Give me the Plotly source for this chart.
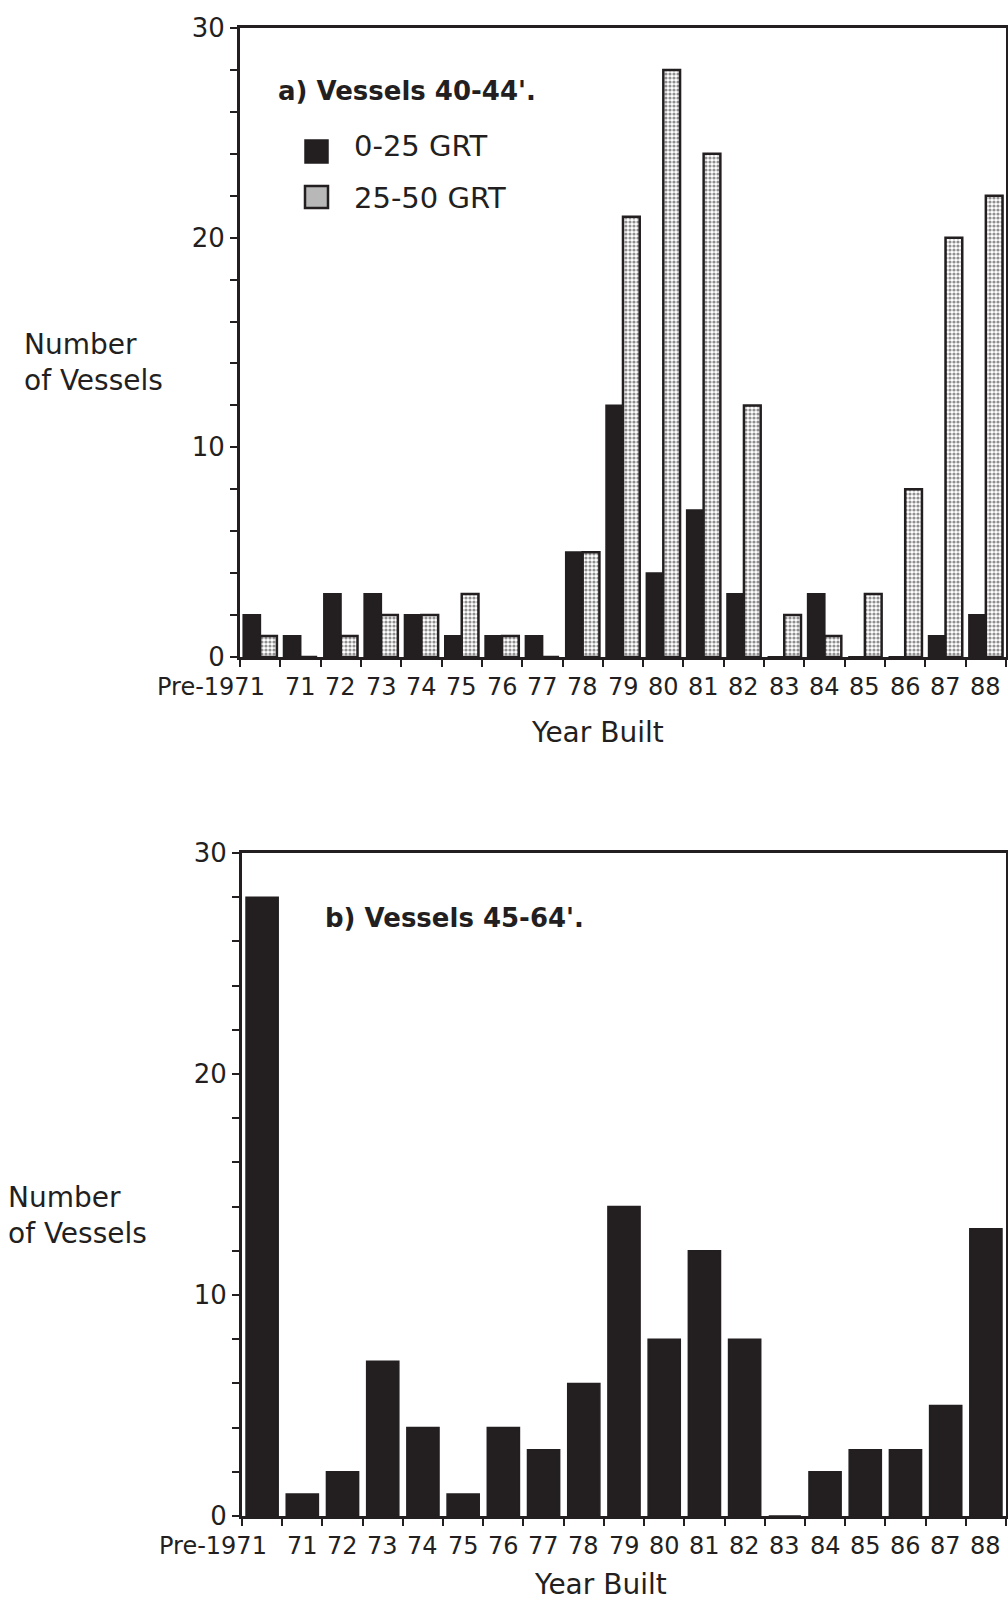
import plotly.graph_objects as go

# ---------------- data ----------------
years = ["Pre-1971", "71", "72", "73", "74", "75", "76", "77", "78", "79",
         "80", "81", "82", "83", "84", "85", "86", "87", "88"]
a_small = [2, 1, 3, 3, 2, 1, 1, 1, 5, 12, 4, 7, 3, 0, 3, 0, 0, 1, 2]      # 0-25 GRT
a_large = [1, 0, 1, 2, 2, 3, 1, 0, 5, 21, 28, 24, 12, 2, 1, 3, 8, 20, 22]  # 25-50 GRT
b_vessels = [28, 1, 2, 7, 4, 1, 4, 3, 6, 14, 8, 12, 8, 0, 2, 3, 3, 5, 13]
y_ticks = [0, 10, 20, 30]
series_names = ["0-25 GRT", "25-50 GRT"]
title_a = "a) Vessels 40-44'."
title_b = "b) Vessels 45-64'."
y_title = "Number<br>of Vessels"
x_title = "Year Built"

# ---------------- style ----------------
INK = "#231f20"
FONT = "DejaVu Sans"
W, H = 1008, 1603


def px_x(v):
    return v / W


def px_y(v):
    return 1 - v / H


fig = go.Figure()

fig.add_trace(go.Bar(
    x=years, y=a_small, name=series_names[0], xaxis="x", yaxis="y",
    marker=dict(color=INK, line=dict(color=INK, width=2)), showlegend=False))
fig.add_trace(go.Bar(
    x=years, y=a_large, name=series_names[1], xaxis="x", yaxis="y",
    marker=dict(color="white", line=dict(color=INK, width=2.5),
                pattern=dict(shape=".", fgcolor=INK, bgcolor="white",
                             size=4, solidity=0.5)),
    showlegend=False))
fig.add_trace(go.Bar(
    x=years, y=b_vessels, name="45-64'", xaxis="x2", yaxis="y2",
    marker=dict(color=INK, line=dict(color=INK, width=1.5)),
    width=0.8, showlegend=False))

ytickfont = dict(family=FONT, size=26, color=INK)

xcommon = dict(type="category", categoryorder="array", categoryarray=years,
               showline=True, mirror=True, linecolor=INK, linewidth=3,
               ticks="outside", tickson="boundaries", ticklen=7, tickwidth=2,
               tickcolor=INK, showticklabels=False, showgrid=False,
               range=[-0.5, len(years) - 0.5], zeroline=False,
               automargin=False)
ycommon = dict(range=[0, 30], tickvals=y_ticks, showline=True, mirror=True,
               linecolor=INK, linewidth=3, ticks="outside", ticklen=7,
               tickwidth=2, tickcolor=INK, tickfont=ytickfont, showgrid=False,
               zeroline=False, automargin=False,
               minor=dict(dtick=2, ticks="outside", ticklen=7, tickwidth=2,
                          tickcolor=INK, showgrid=False))

top_dom_y = [px_y(657), px_y(28)]
bot_dom_y = [px_y(1516), px_y(853)]

fig.update_layout(
    width=W, height=H,
    margin=dict(l=0, r=0, t=0, b=0, autoexpand=False),
    paper_bgcolor="white", plot_bgcolor="white",
    barmode="group", bargap=0.17, bargroupgap=0,
    font=dict(family=FONT, color=INK),
    xaxis=dict(domain=[px_x(240), px_x(1006)], anchor="y", **xcommon),
    yaxis=dict(domain=top_dom_y, anchor="x", **ycommon),
    xaxis2=dict(domain=[px_x(242), px_x(1006)], anchor="y2", **xcommon),
    yaxis2=dict(domain=bot_dom_y, anchor="x2", **ycommon),
)

ann = []
# x tick labels (category labels), drawn from the years list
for xref, ypix in (("x", 687), ("x2", 1546)):
    for i, lab in enumerate(years):
        ann.append(dict(x=i, xref=xref, y=px_y(ypix), yref="paper",
                        text=lab, showarrow=False, xanchor="center",
                        yanchor="middle", xshift=-49 if i == 0 else 0,
                        font=dict(family=FONT, size=24, color=INK)))

# axis titles
for (xp, yp) in ((22, 363), (6, 1215)):
    ann.append(dict(x=px_x(xp), y=px_y(yp), xref="paper", yref="paper",
                    text=y_title, showarrow=False, xanchor="left",
                    yanchor="middle", align="left",
                    font=dict(family=FONT, size=28, color=INK)))
for (xp, yp) in ((597, 732), (600, 1584)):
    ann.append(dict(x=px_x(xp), y=px_y(yp), xref="paper", yref="paper",
                    text=x_title, showarrow=False, xanchor="center",
                    yanchor="middle",
                    font=dict(family=FONT, size=28, color=INK)))

# panel titles
ann.append(dict(x=px_x(276), y=px_y(91), xref="paper", yref="paper",
                text="<b>" + title_a + "</b>", showarrow=False,
                xanchor="left", yanchor="middle",
                font=dict(family=FONT, size=26, color=INK)))
ann.append(dict(x=px_x(323), y=px_y(918), xref="paper", yref="paper",
                text="<b>" + title_b + "</b>", showarrow=False,
                xanchor="left", yanchor="middle",
                font=dict(family=FONT, size=26, color=INK)))

# legend text
for name, yp in zip(series_names, (146, 198)):
    ann.append(dict(x=px_x(352), y=px_y(yp), xref="paper", yref="paper",
                    text=name, showarrow=False, xanchor="left",
                    yanchor="middle",
                    font=dict(family=FONT, size=29, color=INK)))

fig.update_layout(annotations=ann)

# legend keys
shapes = [
    dict(type="rect", xref="paper", yref="paper",
         x0=px_x(305), x1=px_x(328), y0=px_y(163), y1=px_y(140),
         fillcolor=INK, line=dict(color=INK, width=1.5)),
    dict(type="rect", xref="paper", yref="paper",
         x0=px_x(305), x1=px_x(328), y0=px_y(208), y1=px_y(186),
         fillcolor="#b8b8b8", line=dict(color=INK, width=2.5)),
]
fig.update_layout(shapes=shapes)

fig.write_html(
    "out.html",
    config={"displayModeBar": False},
    post_script="document.body.style.margin='0';"
                "document.body.style.overflow='hidden';"
                "document.documentElement.style.overflow='hidden';")
